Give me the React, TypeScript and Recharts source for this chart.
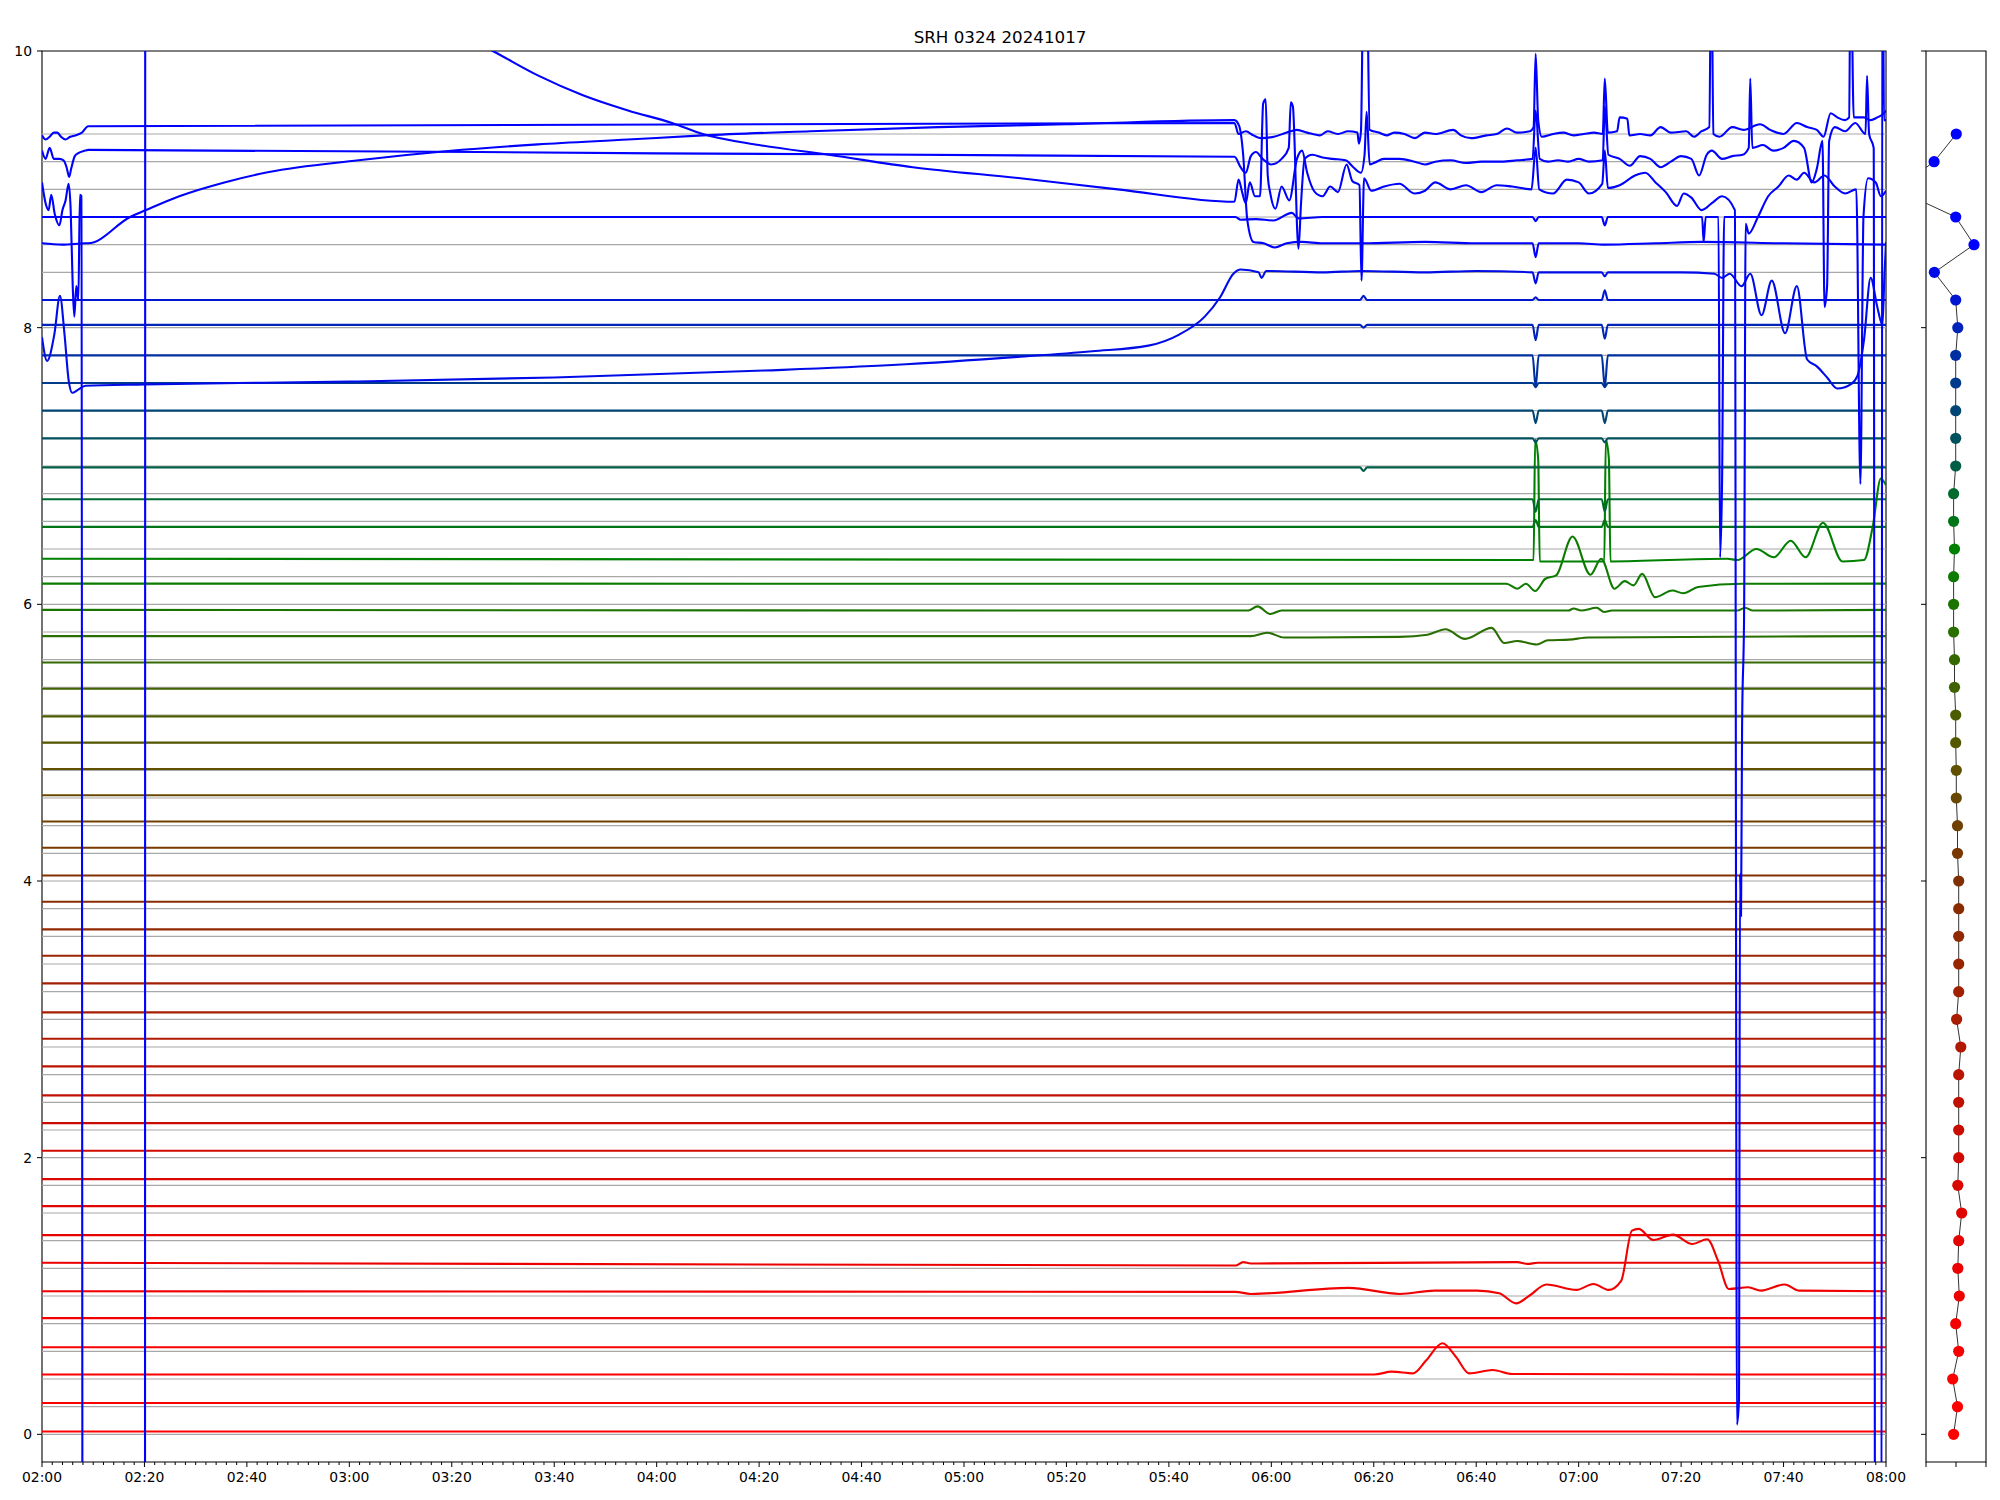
import React from 'react';
import { LineChart, Line, XAxis, YAxis, ReferenceArea, ScatterChart, Scatter } from 'recharts';

type P = [number, number];

const TITLE = 'SRH 0324 20241017';
const FONT = 'DejaVu Sans';

// time axis: minutes after 02:00
const MAJOR_TICKS = [0, 20, 40, 60, 80, 100, 120, 140, 160, 180, 200, 220, 240, 260, 280, 300, 320, 340, 360];
const MAJOR_LABELS = ['02:00', '02:20', '02:40', '03:00', '03:20', '03:40', '04:00', '04:20', '04:40', '05:00',
  '05:20', '05:40', '06:00', '06:20', '06:40', '07:00', '07:20', '07:40', '08:00'];
const MINOR_TICKS = Array.from({ length: 181 }, (_, i) => i * 2);
const Y_TICKS = [0, 2, 4, 6, 8, 10];

// nominal offset of each trace
const LEVELS = [0, 0.2, 0.4, 0.6, 0.8, 1.0, 1.2, 1.4, 1.6, 1.8, 2.0, 2.2, 2.4, 2.6, 2.8, 3.0, 3.2, 3.4, 3.6, 3.8,
  4.0, 4.2, 4.4, 4.6, 4.8, 5.0, 5.2, 5.4, 5.6, 5.8, 6.0, 6.2, 6.4, 6.6, 6.8, 7.0, 7.2, 7.4, 7.6, 7.8,
  8.0, 8.2, 8.4, 8.6, 8.8, 9.0, 9.2, 9.4];

// quiet level of each trace
const BASE = [0.02, 0.227, 0.432, 0.63, 0.84, 1.034, 1.24, 1.44, 1.65, 1.845, 2.05, 2.25, 2.45, 2.66, 2.86, 3.05,
  3.26, 3.46, 3.65, 3.85, 4.04, 4.24, 4.43, 4.62, 4.81, 5.0, 5.19, 5.39, 5.58, 5.77, 5.96, 6.15, 6.33, 6.56,
  6.76, 6.99, 7.2, 7.4, 7.6, 7.8, 8.02, 8.2, 8.4, 8.61, 8.8, 8.95, 9.22, 9.42];

// right panel: x of each dot
const SIDE_X = [-0.08, 0.05, -0.11, 0.09, -0.01, 0.11, 0.06, 0.09, 0.19, 0.06, 0.09, 0.09, 0.09, 0.09, 0.16, 0.02,
  0.09, 0.09, 0.09, 0.09, 0.09, 0.05, 0.05, 0.01, 0.01, -0.01, -0.01, -0.05, -0.05, -0.08, -0.08, -0.08,
  -0.05, -0.08, -0.08, -0.01, -0.01, -0.01, -0.01, -0.01, 0.06, -0.01, -0.72, 0.6, -0.01, -2.0, -0.73, 0.01];

// short dips / bumps seen on many traces at two moments
const EVENT_TIMES = [291.6, 305.1];
const EVENT_DEPTH: Record<number, number[]> = {
  33: [0.05, 0.05], 34: [-0.09, -0.09], 36: [-0.03, -0.03], 37: [-0.09, -0.09],
  38: [-0.03, -0.03], 39: [-0.23, -0.23], 40: [-0.11, -0.1], 41: [0.02, 0.07],
};

const red04: P[] = [[260.1, 0.432], [263.5, 0.453], [267.7, 0.441], [270.2, 0.533], [273.4, 0.658], [276.1, 0.557],
  [278.6, 0.441], [283.2, 0.465], [287.0, 0.436]];
const red10: P[] = [[233, 1.03], [236, 1.015], [255.1, 1.059], [265.1, 1.015], [271.8, 1.039], [280.2, 1.039],
  [284.5, 1.02], [287.8, 0.947], [290.3, 1.0], [293.7, 1.083], [299.6, 1.044], [302.9, 1.087], [305.8, 1.044],
  [308.3, 1.11], [310.4, 1.473], [311.7, 1.485], [314.6, 1.405], [318.4, 1.444], [322.2, 1.376], [325.1, 1.41],
  [327.2, 1.256], [329.3, 1.051], [333.1, 1.063], [335.6, 1.039], [340.2, 1.083], [343.1, 1.039]];
const red12: P[] = [[233, 1.22], [234.5, 1.245], [236, 1.235], [288, 1.245], [290, 1.232], [292, 1.24]];
const green58: P[] = [[236, 5.77], [239.2, 5.795], [242.5, 5.76], [265, 5.765], [270.5, 5.78], [274.0, 5.82],
  [277.8, 5.75], [283.0, 5.83], [285.5, 5.72], [288, 5.735], [291.8, 5.71], [294, 5.74], [298.1, 5.745], [302, 5.76]];
const green60: P[] = [[235.5, 5.955], [237.3, 5.985], [239.8, 5.93], [242, 5.955], [298, 5.955], [299, 5.97],
  [300.5, 5.955], [303.5, 5.975], [305, 5.945], [306.5, 5.955], [331, 5.955], [332.5, 5.975], [334, 5.955]];
const green62: P[] = [[283, 6.149], [285.9, 6.149], [288.0, 6.113], [289.7, 6.149], [291.5, 6.096], [293.5, 6.185],
  [295.6, 6.209], [298.8, 6.49], [302.3, 6.214], [304.4, 6.33], [307.0, 6.113], [309.0, 6.168], [310.7, 6.137],
  [312.4, 6.22], [314.9, 6.052], [318.3, 6.1], [320.4, 6.08], [323.3, 6.125], [331.9, 6.149]];
const green64: P[] = [[291.2, 6.32], [291.5, 7.19], [292.1, 7.05], [292.4, 6.31], [305.0, 6.31], [305.3, 7.19],
  [305.9, 7.05], [306.2, 6.31], [329, 6.33], [331, 6.32], [334.7, 6.4], [338.1, 6.34], [341.4, 6.46], [344.3, 6.34],
  [347.7, 6.59], [351.5, 6.31], [355.7, 6.32], [357.4, 6.56], [359.0, 6.91], [360, 6.86]];
const teal70: P[] = [[257.3, 6.99], [258, 6.965], [258.7, 6.99]];
const blue80: P[] = [[257.3, 8.02], [258, 8.0], [258.7, 8.02]];
const blue82: P[] = [[257.3, 8.2], [258, 8.23], [258.7, 8.2]];
const blue88: P[] = [[233, 8.8], [234, 8.78], [237, 8.785], [240.4, 8.775], [244, 8.83], [245.3, 8.79], [250, 8.8],
  [291.0, 8.8], [291.6, 8.77], [292.2, 8.8], [304.5, 8.8], [305.1, 8.74], [305.7, 8.8], [324.1, 8.8], [324.4, 8.62],
  [324.8, 8.8], [327.3, 8.8], [327.6, 6.34], [328.0, 6.9], [328.4, 8.8]];

const s84: P[] = [[0, 7.93], [1.0, 7.76], [2.4, 7.95], [3.5, 8.23], [4.4, 7.95], [5.2, 7.62], [5.9, 7.53], [7.0, 7.55],
  [8.5, 7.58], [20, 7.59], [60, 7.61], [100, 7.64], [141, 7.69], [166, 7.73], [191, 7.79], [205, 7.83], [216, 7.87],
  [222, 7.95], [227, 8.08], [230, 8.22], [232.6, 8.39], [234, 8.42], [237.5, 8.4], [238.1, 8.36], [239, 8.41],
  [250, 8.4], [257.5, 8.41], [270, 8.4], [280, 8.41], [291.0, 8.4], [291.6, 8.32], [292.2, 8.4], [304.5, 8.4],
  [305.1, 8.37], [305.7, 8.4], [320, 8.4], [326.5, 8.39], [328, 8.36], [329.5, 8.39], [331.8, 8.3], [333.5, 8.39],
  [335.7, 8.09], [337.7, 8.34], [340.3, 7.96], [342.6, 8.3], [344.6, 7.77], [346.5, 7.72], [348.5, 7.64],
  [350.5, 7.56], [353.1, 7.59], [354.4, 7.65], [355.7, 7.91], [357.0, 8.36], [358.3, 8.15], [359.3, 8.02],
  [359.7, 8.38], [360, 8.62]];
const s86: P[] = [[0, 8.61], [4, 8.6], [8.5, 8.61], [9, 8.61], [17.2, 8.8], [20.3, 8.85], [26.8, 8.95], [35.6, 9.05],
  [44.3, 9.125], [61.8, 9.21], [79.3, 9.277], [96.8, 9.325], [114.4, 9.36], [129, 9.39], [150, 9.42], [175, 9.45],
  [200, 9.47], [232.8, 9.5], [233.7, 9.46], [234.5, 9.25], [235.3, 8.78], [236.5, 8.62], [238.5, 8.61],
  [240.7, 8.58], [243, 8.61], [246, 8.62], [250, 8.61], [258, 8.61], [270, 8.62], [280, 8.61], [291.0, 8.61],
  [291.6, 8.51], [292.2, 8.61], [300, 8.61], [305.1, 8.6], [315, 8.61], [324, 8.62], [340, 8.61], [360, 8.6]];
const s90: P[] = [[0, 9.05], [0.7, 8.9], [1.3, 8.85], [1.8, 8.96], [2.5, 8.82], [3.4, 8.74], [4.0, 8.85], [4.6, 8.92],
  [5.2, 9.04], [5.6, 8.85], [6.0, 8.3], [6.3, 8.08], [6.7, 8.3], [7.1, 8.2], [7.4, 8.96], [7.7, 8.95], [8.0, -5],
  [20.1, -5], [20.3, 60], [22, 30], [25, 19], [30, 14.5], [40, 12.2], [50, 11.2], [60, 10.7], [70, 10.35],
  [80, 10.15], [88, 10.0], [97, 9.82], [105.6, 9.68], [114.4, 9.57], [123, 9.48], [129, 9.4], [140, 9.32],
  [153.6, 9.25], [170, 9.16], [191, 9.08], [210, 9.0], [232.8, 8.91], [233.6, 9.07], [234.3, 8.98], [235.0, 8.9],
  [235.8, 9.05], [236.8, 8.95], [237.8, 8.95], [238.4, 9.62], [238.9, 9.65], [239.3, 9.1], [239.8, 8.97],
  [240.8, 8.86], [242, 9.02], [243.5, 8.92], [245, 9.22], [246, 9.28], [247, 9.12], [248.5, 8.98], [250, 8.95],
  [251.5, 9.02], [253, 8.98], [254.7, 9.18], [255.8, 9.06], [257.2, 9.03], [257.6, 8.34], [258.1, 9.08],
  [259.5, 8.99], [262, 9.02], [265, 9.04], [268, 8.97], [270, 8.99], [272, 9.05], [275, 9.0], [278, 9.03],
  [281, 8.98], [284, 9.03], [287, 9.02], [290.8, 9.0], [291.6, 9.3], [292.3, 9.0], [295, 8.97], [297.7, 9.07],
  [300, 9.05], [302, 8.97], [304.6, 9.04], [305.1, 9.28], [305.7, 9.01], [308, 9.03], [311, 9.1], [313, 9.12],
  [315, 9.05], [317, 8.98], [319.2, 8.88], [320.5, 8.97], [322, 8.94], [324, 8.85], [326, 8.9], [328, 8.95],
  [330.5, 8.85], [330.9, 0.07], [331.3, 0.25], [331.5, 4.05], [331.7, 3.75], [331.9, 5.1], [332.3, 5.95],
  [332.6, 8.75], [333.2, 8.68], [335, 8.8], [337, 8.95], [339, 9.02], [341, 9.1], [342.6, 9.07], [344, 9.12],
  [346, 9.05], [348, 9.1], [350, 9.02], [352, 8.97], [354.2, 9.0], [355.0, 6.87], [355.6, 8.8], [356.5, 9.08],
  [358, 9.05], [359, 8.95], [360, 8.99]];
const s92: P[] = [[0, 9.28], [0.7, 9.22], [1.5, 9.3], [2.3, 9.22], [3.4, 9.22], [4.2, 9.21], [4.8, 9.16], [5.3, 9.09],
  [5.7, 9.15], [6.4, 9.24], [7.0, 9.26], [8.4, 9.28], [9.0, 9.285], [120, 9.26], [232.8, 9.235], [234, 9.16],
  [235, 9.12], [236, 9.24], [237, 9.27], [238.3, 9.22], [240, 9.18], [242, 9.22], [243.4, 9.3], [243.8, 9.63],
  [244.2, 9.6], [245.3, 8.57], [245.8, 8.9], [246.5, 9.22], [248, 9.25], [250, 9.23], [252, 9.22], [254.5, 9.21],
  [256, 9.16], [257.5, 9.12], [258.2, 9.25], [258.6, 9.56], [259.2, 9.18], [260, 9.19], [262, 9.22], [265, 9.22],
  [268, 9.2], [270, 9.18], [272, 9.2], [275, 9.21], [278, 9.19], [281, 9.2], [285, 9.2], [288, 9.21], [291, 9.22],
  [291.6, 9.57], [292.4, 9.22], [294, 9.2], [296, 9.21], [298, 9.2], [300, 9.22], [302, 9.2], [304.7, 9.21],
  [305.1, 9.6], [305.8, 9.25], [308, 9.22], [310, 9.17], [312, 9.24], [314, 9.22], [316, 9.16], [318, 9.2],
  [320, 9.24], [322, 9.22], [323.5, 9.1], [325, 9.25], [326, 9.28], [328, 9.22], [330, 9.24], [332, 9.25],
  [333.2, 9.3], [333.5, 9.8], [333.9, 9.3], [336, 9.32], [338, 9.28], [340, 9.3], [342, 9.35], [344, 9.3],
  [345.5, 9.05], [346.5, 9.15], [347.6, 9.35], [348.0, 8.15], [348.5, 8.3], [348.9, 9.35], [350, 9.45],
  [352, 9.42], [354, 9.48], [356, 9.4], [356.3, 9.82], [356.7, 9.4], [357.6, 9.3], [357.9, -2], [359.1, -2],
  [359.3, 12], [359.6, 9.5], [360, 9.5]];
const s94: P[] = [[0, 9.39], [0.7, 9.36], [1.5, 9.38], [2.3, 9.41], [3.0, 9.41], [3.7, 9.38], [4.6, 9.36], [5.5, 9.38],
  [6.5, 9.39], [7.8, 9.41], [9.0, 9.456], [232.8, 9.48], [233.6, 9.4], [235, 9.42], [236.5, 9.39], [238, 9.37],
  [240.5, 9.38], [243, 9.41], [245, 9.43], [247, 9.41], [249.5, 9.39], [251, 9.42], [253, 9.4], [255, 9.42],
  [256.8, 9.41], [257.1, 9.33], [257.5, 9.42], [258.0, 10.6], [258.6, 10.6], [259.2, 9.43], [261, 9.41],
  [262.5, 9.39], [264, 9.41], [266, 9.4], [268, 9.37], [270, 9.41], [272, 9.4], [275.5, 9.43], [277, 9.39],
  [279, 9.37], [282, 9.39], [284, 9.4], [286, 9.44], [288, 9.41], [290.5, 9.42], [291.2, 9.45], [291.6, 9.98],
  [292.1, 9.5], [292.8, 9.38], [295, 9.4], [297, 9.41], [299, 9.39], [301, 9.4], [303, 9.41], [304.7, 9.4],
  [305.1, 9.8], [305.7, 9.41], [307.5, 9.42], [308.0, 9.52], [309.5, 9.51], [309.9, 9.39], [312, 9.4], [314, 9.39],
  [316, 9.45], [318, 9.41], [321, 9.42], [322.5, 9.38], [324, 9.42], [325.5, 9.45], [325.9, 10.8], [326.3, 9.4],
  [327.5, 9.38], [330, 9.45], [332.2, 9.43], [335.4, 9.47], [337.4, 9.43], [340, 9.4], [342.6, 9.48],
  [344.6, 9.45], [346.5, 9.43], [347.8, 9.38], [349.2, 9.55], [350.5, 9.52], [352, 9.5], [352.8, 9.52],
  [353.1, 10.8], [353.7, 9.52], [355.7, 9.52], [357.0, 9.5], [358.3, 9.52], [359.6, 9.55], [360, 9.57]];

const BUMPS: Record<number, P[]> = {
  2: red04, 5: red10, 6: red12, 29: green58, 30: green60, 31: green62, 32: green64,
  35: teal70, 40: blue80, 41: blue82, 44: blue88,
};
const FULL: Record<number, P[]> = { 42: s84, 43: s86, 45: s90, 46: s92, 47: s94 };

// red -> green -> blue
const COLOR_STOPS: [number, number[]][] = [
  [0, [255, 0, 0]], [4, [245, 0, 0]], [8, [224, 4, 0]], [12, [192, 16, 0]], [16, [160, 32, 0]],
  [20, [128, 48, 0]], [24, [96, 80, 0]], [28, [53, 104, 0]], [32, [0, 128, 0]], [43, [0, 0, 255]], [47, [0, 0, 255]],
];

function colorFor(i: number) {
  for (let k = 0; k < COLOR_STOPS.length - 1; k++) {
    const [a, ca] = COLOR_STOPS[k];
    const [b, cb] = COLOR_STOPS[k + 1];
    if (i >= a && i <= b) {
      const f = (i - a) / (b - a);
      const c = ca.map((v, j) => Math.round(v + (cb[j] - v) * f));
      return `rgb(${c[0]},${c[1]},${c[2]})`;
    }
  }
  return '#0000ff';
}

function seriesPoints(i: number): P[] {
  if (FULL[i]) return FULL[i];
  const b = BASE[i];
  const pts: P[] = [[0, b], ...(BUMPS[i] || [])];
  (EVENT_DEPTH[i] || []).forEach((d, k) => {
    const t = EVENT_TIMES[k];
    pts.push([t - 0.6, b], [t, b + d], [t + 0.6, b]);
  });
  pts.sort((p, q) => p[0] - q[0]);
  if (pts[pts.length - 1][0] < 360) pts.push([360, b]);
  return pts;
}

const SERIES = LEVELS.map((lvl, i) => ({
  level: lvl,
  color: colorFor(i),
  data: seriesPoints(i).map(([t, v]) => ({ t, v })),
}));

const SIDE = LEVELS.map((y, i) => ({ x: SIDE_X[i], y, color: colorFor(i) }));

const TimeTick = (props: any) => {
  const { x, y, payload } = props;
  const k = MAJOR_TICKS.indexOf(payload.value);
  const major = k >= 0;
  return (
    <g>
      <line x1={x} x2={x} y1={y} y2={y + (major ? 5 : 3)} stroke="#000" strokeWidth={1} />
      {major && (
        <text x={x} y={y + 10} dy="0.71em" textAnchor="middle" fontSize={13.9} fill="#000" fontFamily={FONT}>
          {MAJOR_LABELS[k]}
        </text>
      )}
    </g>
  );
};

// right panel ticks have no labels
const NoLabel = () => <g />;

const Dot = (props: any) => {
  const { cx, cy, payload } = props;
  return <circle cx={cx} cy={cy} r={5.6} fill={payload.color} />;
};

export default function App() {
  return (
    <div style={{ position: 'absolute', left: 0, top: 0, width: 2000, height: 1500, background: '#fff', fontFamily: FONT }}>
      <div style={{ position: 'absolute', left: 0, top: 27, width: 2000, textAlign: 'center', fontSize: 16.7, lineHeight: '20px', color: '#000' }}>
        {TITLE}
      </div>
      <div style={{ position: 'absolute', left: 0, top: 0 }}>
        <LineChart width={1950} height={1500} margin={{ top: 51, right: 64, bottom: 0, left: 0 }}>
          <XAxis type="number" dataKey="t" domain={[0, 360]} ticks={MINOR_TICKS} interval={0}
            tick={(p: any) => <TimeTick {...p} />} tickLine={false} tickSize={0} tickMargin={0}
            axisLine={false} height={38} allowDataOverflow />
          <YAxis type="number" domain={[-0.2, 10]} ticks={Y_TICKS} width={42} tickSize={5} tickMargin={5}
            axisLine={false} allowDataOverflow tickLine={{ stroke: '#000' }}
            tick={{ fill: '#000', fontSize: 13.9, fontFamily: FONT }} />
          {SERIES.map((s, i) => (
            <Line key={`g${i}`} data={[{ t: 0, v: s.level }, { t: 360, v: s.level }]} dataKey="v" type="linear"
              stroke="#a8a8a8" strokeWidth={1.2} dot={false} activeDot={false} isAnimationActive={false} />
          ))}
          {SERIES.map((s, i) => (
            <Line key={`s${i}`} data={s.data} dataKey="v" type="monotone" stroke={s.color} strokeWidth={2.1}
              dot={false} activeDot={false} isAnimationActive={false} />
          ))}
          <ReferenceArea x1={0} x2={360} y1={-0.2} y2={10} fill="none" fillOpacity={0} stroke="#000" strokeWidth={1.1} />
        </LineChart>
      </div>
      <div style={{ position: 'absolute', left: 1880, top: 0 }}>
        <ScatterChart width={120} height={1500} margin={{ top: 51, right: 14, bottom: 0, left: 40 }}>
          <XAxis type="number" dataKey="x" domain={[-1, 1]} ticks={[-1, 0, 1]} interval={0} tick={NoLabel} tickSize={5}
            height={38} axisLine={false} allowDataOverflow tickLine={{ stroke: '#000' }} />
          <YAxis type="number" dataKey="y" domain={[-0.2, 10]} ticks={Y_TICKS} interval={0} tick={NoLabel} tickSize={5}
            width={6} axisLine={false} allowDataOverflow tickLine={{ stroke: '#000' }} />
          <ReferenceArea x1={-1} x2={1} y1={-0.2} y2={10} fill="none" fillOpacity={0} stroke="#000" strokeWidth={1.1} />
          <Scatter data={SIDE} line={{ stroke: '#333', strokeWidth: 1 }} shape={(p: any) => <Dot {...p} />}
            isAnimationActive={false} />
        </ScatterChart>
      </div>
    </div>
  );
}
